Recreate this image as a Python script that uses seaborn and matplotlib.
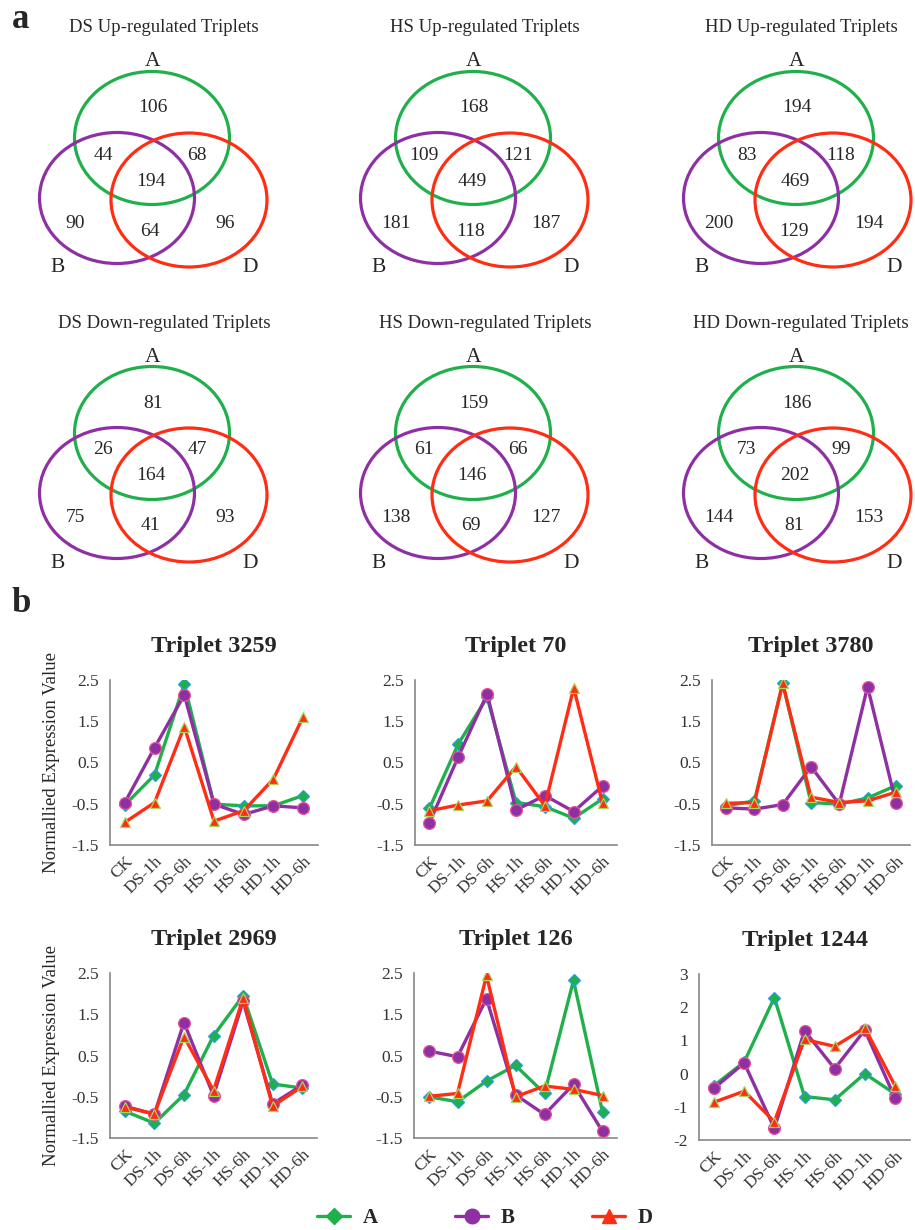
import numpy as np
import pandas as pd
import matplotlib
matplotlib.use('Agg')
import matplotlib.pyplot as plt
from matplotlib.patches import Ellipse
from matplotlib.lines import Line2D
import seaborn as sns

# ---- panel a: Venn counts (A only, A&B, A&D, A&B&D, B only, B&D, D only)
venn_titles = ['DS Up-regulated Triplets', 'HS Up-regulated Triplets', 'HD Up-regulated Triplets',
               'DS Down-regulated Triplets', 'HS Down-regulated Triplets', 'HD Down-regulated Triplets']
venn_counts = [
    [106, 44, 68, 194, 90, 64, 96],
    [168, 109, 121, 449, 181, 118, 187],
    [194, 83, 118, 469, 200, 129, 194],
    [81, 26, 47, 164, 75, 41, 93],
    [159, 61, 66, 146, 138, 69, 127],
    [186, 73, 99, 202, 144, 81, 153],
]

# ---- panel b: normalised expression per stage
stages = ['CK', 'DS-1h', 'DS-6h', 'HS-1h', 'HS-6h', 'HD-1h', 'HD-6h']
triplets = ['Triplet 3259', 'Triplet 70', 'Triplet 3780', 'Triplet 2969', 'Triplet 126', 'Triplet 1244']
expr_A = [
    [-0.53, 0.20, 2.40, -0.51, -0.55, -0.55, -0.30],
    [-0.61, 0.95, 2.08, -0.47, -0.57, -0.85, -0.38],
    [-0.55, -0.43, 2.42, -0.47, -0.51, -0.36, -0.06],
    [-0.85, -1.14, -0.45, 0.98, 1.95, -0.19, -0.29],
    [-0.50, -0.62, -0.12, 0.26, -0.42, 2.32, -0.87],
    [-0.36, 0.35, 2.29, -0.69, -0.79, 0.00, -0.61],
]
expr_B = [
    [-0.47, 0.86, 2.14, -0.51, -0.76, -0.55, -0.60],
    [-0.96, 0.64, 2.16, -0.65, -0.30, -0.69, -0.07],
    [-0.60, -0.63, -0.52, 0.40, -0.51, 2.34, -0.47],
    [-0.73, -0.92, 1.30, -0.47, 1.81, -0.67, -0.22],
    [0.61, 0.47, 1.88, -0.45, -0.93, -0.20, -1.34],
    [-0.44, 0.32, -1.65, 1.29, 0.15, 1.31, -0.73],
]
expr_D = [
    [-0.95, -0.47, 1.37, -0.92, -0.67, 0.10, 1.61],
    [-0.67, -0.53, -0.43, 0.40, -0.55, 2.31, -0.49],
    [-0.49, -0.47, 2.42, -0.34, -0.47, -0.43, -0.22],
    [-0.75, -0.92, 0.96, -0.35, 1.89, -0.73, -0.25],
    [-0.49, -0.42, 2.44, -0.50, -0.24, -0.32, -0.47],
    [-0.86, -0.53, -1.45, 1.03, 0.82, 1.38, -0.36],
]

genomes = ['A', 'B', 'D']
colors = {'A': '#1fb04b', 'B': '#8e30a3', 'D': '#ff2d14'}
edges = {'A': '#2a9fd0', 'B': '#e8558f', 'D': '#a6d65a'}
markers = {'A': 'D', 'B': 'o', 'D': '^'}
msize = {'A': 6.5, 'B': 8.5, 'D': 7.5}

sns.set_style('white')
plt.rcParams['font.family'] = ['Liberation Serif', 'DejaVu Serif']

W, H = 915, 1230
fig = plt.figure(figsize=(W / 100, H / 100), dpi=100)

# background axes in pixel coordinates for the Venn diagrams
bg = fig.add_axes([0, 0, 1, 1])
bg.set_xlim(0, W)
bg.set_ylim(H, 0)
bg.axis('off')

bg.text(12, 20, 'a', fontsize=25, fontweight='bold', va='center', ha='left')
bg.text(12, 604, 'b', fontsize=25, fontweight='bold', va='center', ha='left')

col_x = [153, 474, 797]
title_dx = [11, 11, 4]
row_y = [28, 323]
# offsets of the region numbers from the A label x / title y
num_off = [(0, 80), (-50, 127), (44, 127), (-2, 153), (-78, 195), (-3, 203), (72, 195)]
for i, (title, counts) in enumerate(zip(venn_titles, venn_counts)):
    cx = col_x[i % 3]
    ty = row_y[i // 3]
    bg.text(cx + title_dx[i % 3], ty, title, fontsize=13.5, ha='center', va='center')
    for (dx, dy, w, h, c) in [(-1, 110, 155, 133, colors['A']),
                              (-36, 170, 155, 131, colors['B']),
                              (36, 172, 156, 134, colors['D'])]:
        bg.add_patch(Ellipse((cx + dx, ty + dy), w, h, fill=False, lw=2.3, ec=c))
    for (dx, dy), n in zip(num_off, counts):
        bg.text(cx + dx, ty + dy, str(n), fontsize=14, ha='center', va='center')
    bg.text(cx, ty + 34, 'A', fontsize=15.5, ha='center', va='center')
    bg.text(cx - 95, ty + 240, 'B', fontsize=15.5, ha='center', va='center')
    bg.text(cx + 97, ty + 240, 'D', fontsize=15.5, ha='center', va='center')

# line chart axes boxes: left, right, top, bottom in pixels
boxes = [(110, 318, 680, 845), (415, 617, 680, 845), (712, 910, 680, 845),
         (110, 317, 973, 1138), (414, 617, 973, 1138), (699, 910, 974, 1140)]
ylims = [(-1.5, 2.5)] * 5 + [(-2, 3)]
yticks = [[-1.5, -0.5, 0.5, 1.5, 2.5]] * 5 + [[-2, -1, 0, 1, 2, 3]]

for i, trip in enumerate(triplets):
    l, r, t, b = boxes[i]
    ax = fig.add_axes([l / W, 1 - b / H, (r - l) / W, (b - t) / H])
    df = pd.DataFrame({
        'stage': np.tile(np.arange(len(stages)), 3),
        'value': expr_A[i] + expr_B[i] + expr_D[i],
        'genome': np.repeat(genomes, len(stages)),
    })
    for g in genomes:
        sub = df[df['genome'] == g]
        sns.lineplot(data=sub, x='stage', y='value', ax=ax, color=colors[g],
                     marker=markers[g], markersize=msize[g], markeredgecolor=edges[g],
                     markeredgewidth=0.9, lw=2.4, legend=False)
    ax.set_xlim(-0.5, len(stages) - 0.5)
    ax.set_ylim(*ylims[i])
    ax.set_yticks(yticks[i])
    ax.set_yticklabels([('%g' % v) for v in yticks[i]], fontsize=12.5, color='#333333')
    ax.set_xticks(np.arange(len(stages)))
    ax.set_xticklabels(stages, rotation=45, ha='right', rotation_mode='anchor',
                       fontsize=12.5, color='#333333')
    ax.set_xticks(np.arange(-0.5, len(stages)), minor=True)
    ax.tick_params(axis='x', which='major', length=0, pad=6)
    ax.tick_params(axis='x', which='minor', length=5, color='#888888', width=1.2)
    ax.tick_params(axis='y', length=5, color='#888888', width=1.2, pad=3)
    for s in ['top', 'right']:
        ax.spines[s].set_visible(False)
    for s in ['left', 'bottom']:
        ax.spines[s].set_color('#888888')
        ax.spines[s].set_linewidth(1.2)
    ax.set_xlabel('')
    if i % 3 == 0:
        ax.set_ylabel('Normallied Expression Value', fontsize=13.5, labelpad=8)
    else:
        ax.set_ylabel('')
    ax.set_title(trip, fontsize=17.5, fontweight='bold', pad=20)

handles = [Line2D([], [], color=colors[g], lw=2.4, marker=markers[g], markersize=msize[g] + 2,
                  markeredgecolor=colors[g]) for g in genomes]
fig.legend(handles, genomes, loc='center', bbox_to_anchor=(0.53, 1 - 1218 / H), ncol=3,
           frameon=False, prop={'size': 15, 'weight': 'bold'}, handlelength=1.6,
           columnspacing=3.7, handletextpad=0.6)

fig.savefig('out.png', dpi=100)
